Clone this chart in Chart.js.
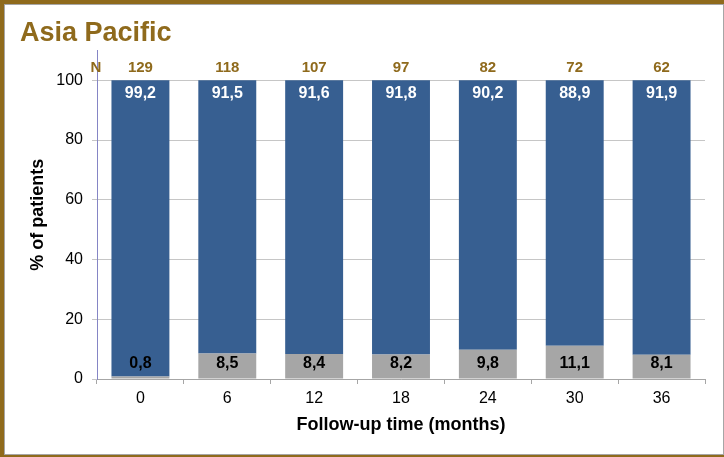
<!DOCTYPE html>
<html>
<head>
<meta charset="utf-8">
<script src="https://cdn.jsdelivr.net/npm/chart.js@4"></script>
<style>
  html, body { margin: 0; padding: 0; background: #fff; }
  #frame {
    position: relative; width: 724px; height: 457px; box-sizing: border-box;
    border-top: 4px solid #8f6a1c; border-left: 4px solid #8f6a1c; border-bottom: 2px solid #8f6a1c;
  }
  #inner { position: absolute; left: 0; top: 0; width: 718px; height: 449px; border: 1px solid #a6a6a6; }
  canvas { display: block; }
</style>
</head>
<body>
<div id="frame"><div id="inner"><canvas id="myChart" width="718" height="449"></canvas></div></div>
<script>
var months = ['0', '6', '12', '18', '24', '30', '36'];
var bluePct = [99.2, 91.5, 91.6, 91.8, 90.2, 88.9, 91.9];
var greyPct = [0.8, 8.5, 8.4, 8.2, 9.8, 11.1, 8.1];
var nPatients = [129, 118, 107, 97, 82, 72, 62];
var yTicks = [0, 20, 40, 60, 80, 100];
var nRowLevel = 104;

var brown = '#8f6a1c';

function fmt(v){
    return v.toFixed(1).replace('.', ',');
}

// labels inside the bars and the N row above them
var barLabels = {
    id: 'barLabels',
    afterDatasetsDraw: function(chart){
        var ctx = chart.ctx;
        var y = chart.scales.y;
        var base = y.getPixelForValue(0);
        ctx.save();
        ctx.textAlign = 'center';
        ctx.textBaseline = 'middle';

        var greyBars = chart.getDatasetMeta(0).data;
        var blueBars = chart.getDatasetMeta(1).data;

        ctx.font = 'bold 16px "Liberation Sans", Arial, sans-serif';
        for(var i = 0; i < months.length; i++)
        {
            ctx.fillStyle = '#ffffff';
            ctx.fillText(fmt(bluePct[i]), blueBars[i].x, blueBars[i].y + 13);
            ctx.fillStyle = '#000000';
            ctx.fillText(fmt(greyPct[i]), greyBars[i].x, base - 15);
        }

        ctx.font = 'bold 15px "Liberation Sans", Arial, sans-serif';
        ctx.fillStyle = brown;
        var ny = y.getPixelForValue(nRowLevel);
        for(var i = 0; i < months.length; i++)
        {
            ctx.fillText(String(nPatients[i]), blueBars[i].x, ny);
        }
        ctx.fillText('N', chart.chartArea.left - 1, ny);
        ctx.restore();
    }
};

var ctx = document.getElementById('myChart').getContext('2d');

var myChart = new Chart(ctx, {
    type: 'bar',
    data: {
        labels: months,
        datasets: [{
            data: greyPct,
            backgroundColor: '#a6a6a6',
            barPercentage: 0.667,
            categoryPercentage: 1
        }, {
            data: bluePct,
            backgroundColor: '#375f91',
            barPercentage: 0.667,
            categoryPercentage: 1
        }]
    },
    options: {
        responsive: false,
        animation: false,
        layout: { padding: { left: 15, right: 18, top: 0, bottom: 0 } },
        plugins: {
            legend: { display: false },
            tooltip: { enabled: false },
            title: {
                display: true,
                text: 'Asia Pacific',
                align: 'start',
                color: brown,
                font: { family: '"Liberation Sans", Arial, sans-serif', size: 27, weight: 'bold' },
                padding: { top: 12, bottom: 1 }
            }
        },
        scales: {
            x: {
                stacked: true,
                grid: { offset: true, drawOnChartArea: false, tickLength: 5, color: '#a6a6a6' },
                border: { color: '#a6a6a6' },
                ticks: {
                    color: '#000',
                    padding: 5,
                    font: { family: '"Liberation Sans", Arial, sans-serif', size: 16 }
                },
                title: {
                    display: true,
                    text: 'Follow-up time (months)',
                    color: '#000',
                    font: { family: '"Liberation Sans", Arial, sans-serif', size: 18, weight: 'bold' },
                    padding: { top: 0, bottom: 18 }
                },
                afterFit: function(scale){ scale.height = 75; }
            },
            y: {
                stacked: true,
                min: 0,
                max: 110,
                afterBuildTicks: function(scale){
                    scale.ticks = yTicks.map(function(v){ return { value: v }; });
                },
                grid: { color: '#c6c6c6', tickLength: 5 },
                border: { color: '#8585c5' },
                ticks: {
                    color: '#000',
                    padding: 9,
                    font: { family: '"Liberation Sans", Arial, sans-serif', size: 16 }
                },
                title: {
                    display: true,
                    text: '% of patients',
                    color: '#000',
                    font: { family: '"Liberation Sans", Arial, sans-serif', size: 18, weight: 'bold' },
                    padding: { top: 7, bottom: 0 }
                },
                afterFit: function(scale){ scale.width = 77; }
            }
        }
    },
    plugins: [barLabels]
});
</script>
</body>
</html>
